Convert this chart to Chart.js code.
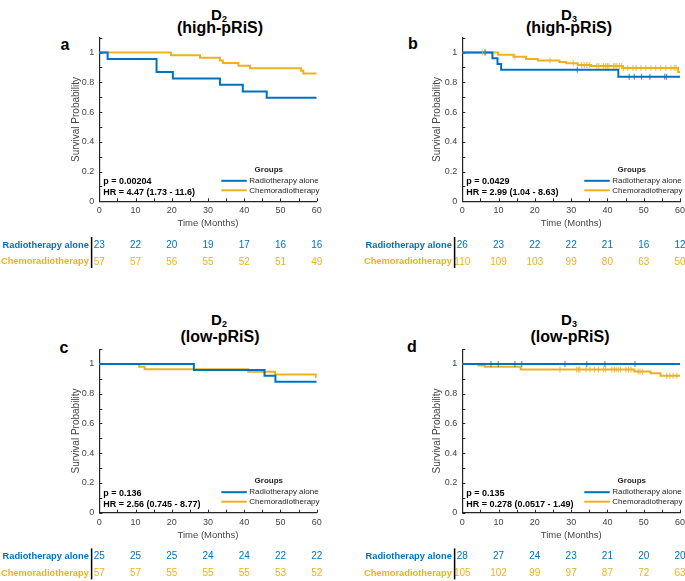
<!DOCTYPE html>
<html>
<head>
<meta charset="utf-8">
<script src="https://cdn.jsdelivr.net/npm/chart.js@4/dist/chart.umd.min.js"></script>
<style>
  html, body { margin: 0; padding: 0; background: #fff; }
  body { width: 685px; height: 581px; position: relative; overflow: hidden; font-family: "Liberation Sans", Arial, sans-serif; }
  .panel { position: absolute; }
  .txt { position: absolute; transform: translate(-50%, -50%); font-weight: bold; line-height: 1; white-space: nowrap; color: #000; }
  .ttl { font-size: 16px; }
  .ttl.d { font-size: 15px; }
  .ttl sub { font-size: 9px; vertical-align: baseline; position: relative; top: 2px; }
  .letter { font-size: 16px; }
</style>
</head>
<body>
<div class="txt ttl d" style="left:219px;top:14px">D<sub>2</sub></div>
<div class="txt ttl" style="left:220px;top:28px">(high-pRiS)</div>
<div class="txt ttl d" style="left:569px;top:14px">D<sub>3</sub></div>
<div class="txt ttl" style="left:569px;top:28px">(high-pRiS)</div>
<div class="txt ttl d" style="left:219px;top:319px">D<sub>2</sub></div>
<div class="txt ttl" style="left:220px;top:337px">(low-pRiS)</div>
<div class="txt ttl d" style="left:569px;top:319px">D<sub>3</sub></div>
<div class="txt ttl" style="left:570px;top:337px">(low-pRiS)</div>
<div class="txt letter" style="left:65px;top:45px">a</div>
<div class="txt letter" style="left:413px;top:44px">b</div>
<div class="txt letter" style="left:64px;top:348px">c</div>
<div class="txt letter" style="left:412px;top:347px">d</div>

<div class="panel" style="left:0;top:0"><canvas id="pa" width="342" height="290"></canvas></div>
<div class="panel" style="left:342px;top:0"><canvas id="pb" width="350" height="290"></canvas></div>
<div class="panel" style="left:0;top:290px"><canvas id="pc" width="342" height="291"></canvas></div>
<div class="panel" style="left:342px;top:290px"><canvas id="pd" width="350" height="291"></canvas></div>

<script>
const FONT = '"Liberation Sans", Arial, sans-serif';
const BLUE = '#0072BD';
const GOLD = '#EDB120';
const INK = '#262626';

const groupNames = ['Radiotherapy alone', 'Chemoradiotherapy'];
const riskTimes = [0, 10, 20, 30, 40, 50, 60];

// a: D2 high-pRiS
const aRadioTime = [0, 2.3, 15.8, 20.3, 33.3, 39.6, 46.2, 60];
const aRadioSurv = [1, 0.957, 0.870, 0.826, 0.783, 0.739, 0.696, 0.696];
const aChemoTime = [0, 19.8, 27.8, 33.3, 34.1, 38.4, 41.6, 55.7, 56.3, 60];
const aChemoSurv = [1, 0.982, 0.965, 0.947, 0.930, 0.912, 0.895, 0.877, 0.860, 0.860];
const aRadioCens = [];
const aChemoCens = [];
const aRadioRisk = [23, 22, 20, 19, 17, 16, 16];
const aChemoRisk = [57, 57, 56, 55, 52, 51, 49];
const aStats = ['p = 0.00204', 'HR = 4.47 (1.73 - 11.6)'];

// b: D3 high-pRiS
const bRadioTime = [0, 8.3, 9.7, 10.7, 43.0, 60];
const bRadioSurv = [1, 0.962, 0.923, 0.885, 0.838, 0.838];
const bChemoTime = [0, 9.9, 14.1, 17.6, 20.8, 26.8, 28.6, 31.8, 35.5, 44.3, 59.5, 60];
const bChemoSurv = [1, 0.986, 0.972, 0.957, 0.946, 0.937, 0.928, 0.917, 0.910, 0.896, 0.870, 0.870];
const bRadioCens = [6.3, 31.7, 46.0, 47.4, 49.4, 51.7, 55.8, 56.3];
const bChemoCens = [5.6, 6.2, 14.5, 24.2, 30.6, 32.9, 33.6, 34.3, 35.0, 37.1, 37.6, 38.9, 39.5, 40.0, 40.4,
                    41.7, 42.1, 42.6, 43.3, 43.9, 44.4, 45.6, 47.0, 47.9, 49.2, 50.6, 52.0, 53.3, 54.7, 56.1, 57.5, 58.4, 58.9];
const bRadioRisk = [26, 23, 22, 22, 21, 16, 12];
const bChemoRisk = [110, 109, 103, 99, 80, 63, 50];
const bStats = ['p = 0.0429', 'HR = 2.99 (1.04 - 8.63)'];

// c: D2 low-pRiS
const cRadioTime = [0, 26.1, 45.6, 48.6, 60];
const cRadioSurv = [1, 0.960, 0.920, 0.880, 0.880];
const cChemoTime = [0, 11.0, 12.5, 41.1, 48.5, 59.8, 60];
const cChemoSurv = [1, 0.982, 0.965, 0.947, 0.930, 0.912, 0.912];
const cRadioCens = [];
const cChemoCens = [];
const cRadioRisk = [25, 25, 25, 24, 24, 22, 22];
const cChemoRisk = [57, 57, 55, 55, 55, 53, 52];
const cStats = ['p = 0.136', 'HR = 2.56 (0.745 - 8.77)'];

// d: D3 low-pRiS
const dRadioTime = [0, 60];
const dRadioSurv = [1, 1];
const dChemoTime = [0, 4.4, 6.2, 16.1, 47.4, 51.9, 54.6, 60];
const dChemoSurv = [1, 0.990, 0.981, 0.962, 0.950, 0.937, 0.921, 0.921];
const dRadioCens = [7.9, 9.9, 14.5, 16.4, 28.3, 34.3, 39.3, 47.6];
const dChemoCens = [26.9, 31.5, 32.0, 32.4, 34.1, 35.2, 36.4, 37.5, 38.9, 39.5, 41.2, 41.9, 42.4, 43.0, 43.6,
                    45.1, 45.8, 46.5, 48.5, 49.0, 49.7, 56.3, 57.2, 58.1, 59.1];
const dRadioRisk = [28, 27, 24, 23, 21, 20, 20];
const dChemoRisk = [105, 102, 99, 97, 87, 72, 63];
const dStats = ['p = 0.135', 'HR = 0.278 (0.0517 - 1.49)'];

// survival value of a step curve at time t
function stepAt(times, surv, t) {
  let v = surv[0];
  for (let i = 0; i < times.length; i++) if (times[i] <= t) v = surv[i];
  return v;
}

function curve(times, surv, color) {
  return {
    data: times.map((t, i) => ({ x: t, y: surv[i] })),
    borderColor: color, borderWidth: 2, stepped: true,
    pointRadius: 0, fill: false, order: 2
  };
}

function censor(cens, times, surv, color) {
  return {
    data: cens.map(t => ({ x: t, y: stepAt(times, surv, t) })),
    showLine: false, pointStyle: 'line', rotation: 90, pointRadius: 3,
    pointBorderColor: color + 'bb', pointBorderWidth: 1.2, order: 1
  };
}

// inward tick marks, MATLAB style
const inTicks = {
  id: 'inTicks',
  beforeDatasetsDraw(chart) {
    const { ctx, chartArea: a, scales: { x, y } } = chart;
    ctx.save();
    ctx.strokeStyle = INK;
    ctx.lineWidth = 1;
    ctx.beginPath();
    x.ticks.forEach(t => {
      const px = Math.round(x.getPixelForValue(t.value)) + 0.5;
      ctx.moveTo(px, a.bottom); ctx.lineTo(px, a.bottom - 3);
    });
    y.ticks.forEach(t => {
      const py = Math.round(y.getPixelForValue(t.value)) + 0.5;
      ctx.moveTo(a.left, py); ctx.lineTo(a.left + 3, py);
    });
    ctx.stroke();
    ctx.restore();
  }
};

// stats text, legend box and numbers-at-risk table
const extras = {
  id: 'extras',
  afterDraw(chart, args, opts) {
    const { ctx, chartArea: a, scales: { x } } = chart;
    ctx.save();
    ctx.textBaseline = 'middle';

    ctx.fillStyle = '#000';
    ctx.font = 'bold 9px ' + FONT;
    ctx.textAlign = 'left';
    ctx.fillText(opts.stats[0], a.left + 4, a.bottom - 19.5);
    ctx.fillText(opts.stats[1], a.left + 4, a.bottom - 8.5);

    ctx.fillStyle = INK;
    ctx.font = 'bold 8px ' + FONT;
    ctx.textAlign = 'center';
    ctx.fillText('Groups', a.left + 169.5, a.bottom - 32);
    ctx.font = '8px ' + FONT;
    ctx.textAlign = 'left';
    [BLUE, GOLD].forEach((c, i) => {
      const ly = a.bottom - 20.5 + i * 9.5;
      ctx.strokeStyle = c; ctx.lineWidth = 2;
      ctx.beginPath(); ctx.moveTo(a.left + 122, ly); ctx.lineTo(a.left + 147.5, ly); ctx.stroke();
      ctx.fillStyle = INK;
      ctx.fillText(groupNames[i], a.left + 150, ly);
    });

    // risk table
    const rows = [a.bottom + 43.8, a.bottom + 60.5];
    [BLUE, GOLD].forEach((c, i) => {
      ctx.fillStyle = c;
      ctx.font = 'bold 9.3px ' + FONT;
      ctx.textAlign = 'right';
      ctx.fillText(groupNames[i], a.left - 10.5, rows[i]);
      ctx.font = '10px ' + FONT;
      ctx.textAlign = 'center';
      opts.risk[i].forEach((n, j) => ctx.fillText(String(n), x.getPixelForValue(riskTimes[j]), rows[i]));
    });
    ctx.strokeStyle = '#000'; ctx.lineWidth = 1.5;
    ctx.beginPath();
    ctx.moveTo(a.left - 7.7, a.bottom + 35.7); ctx.lineTo(a.left - 7.7, a.bottom + 66.7);
    ctx.stroke();
    ctx.restore();
  }
};

function makePanel(id, pad, yw, radio, chemo, risk, stats) {
  new Chart(document.getElementById(id), {
    type: 'line',
    data: {
      datasets: [
        curve(radio[0], radio[1], BLUE),
        curve(chemo[0], chemo[1], GOLD),
        censor(radio[2], radio[0], radio[1], BLUE),
        censor(chemo[2], chemo[0], chemo[1], GOLD)
      ]
    },
    options: {
      responsive: false,
      animation: false,
      devicePixelRatio: 1,
      layout: { padding: pad },
      plugins: { legend: { display: false }, tooltip: { enabled: false }, extras: { risk, stats } },
      scales: {
        x: {
          type: 'linear', min: 0, max: 60,
          grid: { display: false, drawTicks: false },
          border: { display: true, color: INK, width: 1.2 },
          ticks: {
            stepSize: 5, autoSkip: false, maxRotation: 0, padding: 4,
            color: '#444', font: { size: 9, family: FONT },
            callback: v => (v % 10 === 0 ? v : '')
          },
          title: { display: true, text: 'Time (Months)', color: '#444', font: { size: 9.5, family: FONT }, padding: { top: 0, bottom: 2 } },
          afterFit: s => { s.height = 30; }
        },
        y: {
          type: 'linear', min: 0, max: 1.1,
          grid: { display: false, drawTicks: false },
          border: { display: true, color: INK, width: 1.2 },
          ticks: {
            stepSize: 0.1, autoSkip: false, padding: 5,
            color: '#444', font: { size: 9, family: FONT },
            callback: v => {
              const k = Math.round(v * 10);
              if (k % 2 !== 0 || k > 10) return '';
              return k === 10 ? '1' : k === 0 ? '0' : (k / 10).toFixed(1);
            }
          },
          title: { display: true, text: 'Survival Probability', color: '#444', font: { size: 10, family: FONT }, padding: { top: 1, bottom: 0 } },
          afterFit: s => { s.width = yw; }
        }
      }
    },
    plugins: [inTicks, extras]
  });
}

makePanel('pa', { left: 69.3, right: 25.3, top: 37.7, bottom: 58.7 }, 30,
  [aRadioTime, aRadioSurv, aRadioCens], [aChemoTime, aChemoSurv, aChemoCens], [aRadioRisk, aChemoRisk], aStats);
makePanel('pb', { left: 88.3, right: 12, top: 37.7, bottom: 58.7 }, 32,
  [bRadioTime, bRadioSurv, bRadioCens], [bChemoTime, bChemoSurv, bChemoCens], [bRadioRisk, bChemoRisk], bStats);
makePanel('pc', { left: 69.3, right: 25.3, top: 59.1, bottom: 38.3 }, 30,
  [cRadioTime, cRadioSurv, cRadioCens], [cChemoTime, cChemoSurv, cChemoCens], [cRadioRisk, cChemoRisk], cStats);
makePanel('pd', { left: 88.3, right: 12, top: 59.1, bottom: 38.3 }, 32,
  [dRadioTime, dRadioSurv, dRadioCens], [dChemoTime, dChemoSurv, dChemoCens], [dRadioRisk, dChemoRisk], dStats);
</script>
</body>
</html>
